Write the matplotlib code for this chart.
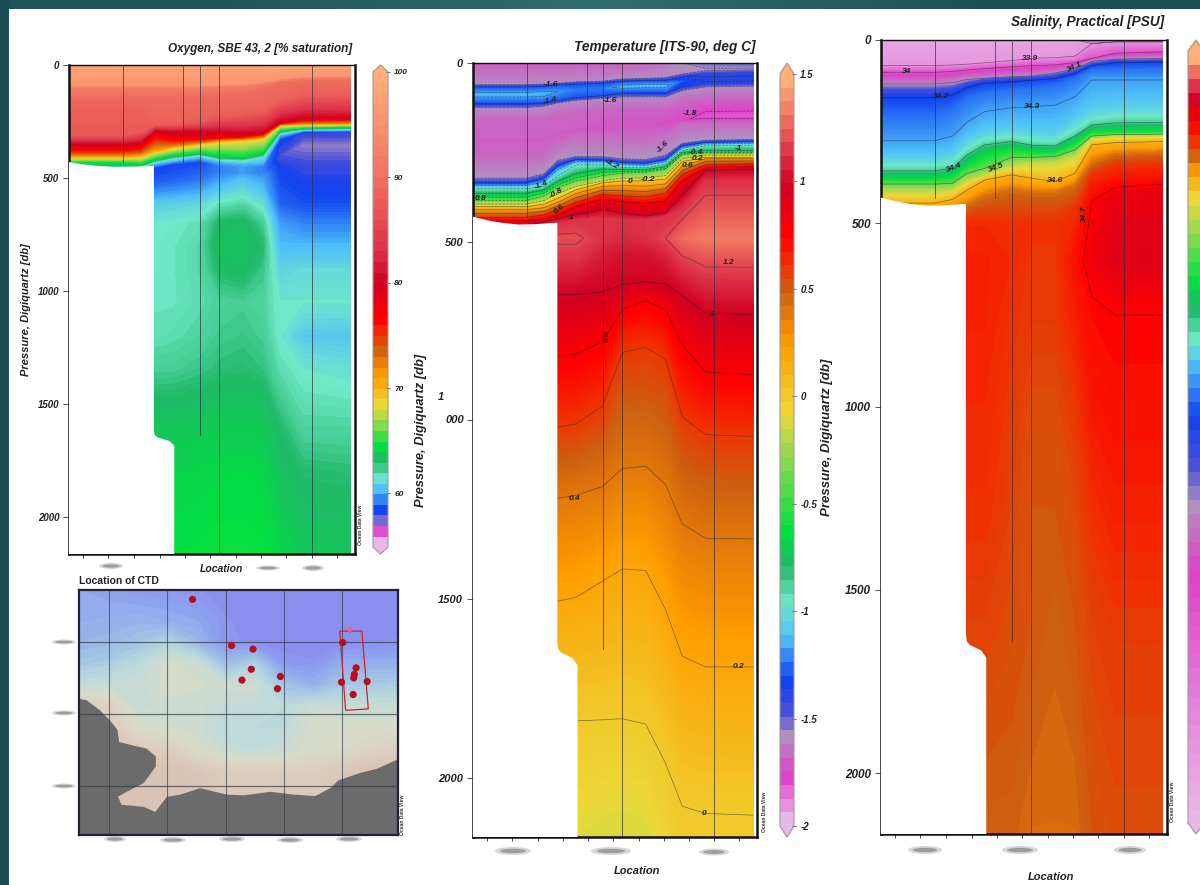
import numpy as np
import matplotlib
matplotlib.use("Agg")
import matplotlib.pyplot as plt
from matplotlib.cm import ScalarMappable
from matplotlib.colors import LinearSegmentedColormap, BoundaryNorm
from matplotlib.patches import Ellipse, Polygon, Rectangle

plt.rcParams['font.family'] = ['Liberation Sans', 'DejaVu Sans']
W, H = 1200, 885

# ---------- shared section geometry ----------
section_x = [0, .187, .25, .30, .363, .456, .526, .608, .678, .737, .819, .986]
station_x = [.19, .40, .457, .525, .85]
station_end = [430, 430, 1640, 2166, 2166]
seafloor_x = [0, .05, .1, .16, .22, .295, .297, .297, .30, .31, .35, .368, .368, 0]
seafloor_p = [430, 440, 447, 452, 451, 447, 447, 1620, 1640, 1650, 1665, 1685, 2166, 2166]
x_ticks = [.049, .138, .228, .317, .406, .493, .584, .672, .76, .849, .938]

spectrum = ['#e8b8e8', '#e040c8', '#b090c0', '#4a50d8', '#1040f0', '#50c0f8', '#70e8c8',
            '#20b868', '#00e040', '#a0d850', '#ecd838', '#ff9c00', '#cc6010', '#f03000',
            '#ff0000', '#d00020', '#dc3048', '#f07060', '#ffb07a']

# ---------- temperature ----------
temp_anchor = [-2, -1.8, -1.61, -1.5, -1.34, -1.14, -.98, -.8, -.64, -.25, -.08, .25, .5, .62, .77, 1.0, 1.15, 1.32, 1.5]
temp_values = [
    [-1.72, -1.72, -1.72, -1.72, -1.72, -1.72, -1.72, -1.7, -1.66, -1.6, -1.54, -1.52],
    -1.62,
    [-1.3, -1.3, -1.3, -1.3, -1.3, -1.3, -1.3, -1.3, -1.3, -1.38, -1.42, -1.42],
    [-1.15, -1.15, -1.15, -1.2, -1.25, -1.25, -1.15, -1.15, -1.15, -1.3, -1.38, -1.38],
    [-1.3, -1.3, -1.3, -1.3, -1.3, -1.3, -1.3, -1.3, -1.3, -1.38, -1.42, -1.42],
    -1.62, -1.7,
    [-1.72, -1.72, -1.72, -1.72, -1.72, -1.74, -1.74, -1.74, -1.76, -1.78, -1.84, -1.84],
    -1.7, -1.6, -1.4, -1.15, -1.0, -.75, -.4, -.2, 0, .3, .6, .85, 1.0, 1.15,
    [1.18, 1.18, 1.2, 1.22, 1.22, 1.15, 1.12, 1.14, 1.2, 1.3, 1.35, 1.35],
    [1.15, 1.15, 1.15, 1.15, 1.15, 1.08, 1.06, 1.06, 1.1, 1.18, 1.22, 1.22],
    1.0, .8, .6, .4, .2, 0,
    [-.1, -.1, -.1, -.1, -.1, -.12, -.13, -.12, -.05, 0, 0, 0],
]
temp_depths = [
    0,
    [60, 60, 58, 56, 52, 50, 44, 42, 40, 30, 20, 18],
    [70, 70, 68, 64, 62, 60, 54, 52, 52, 40, 32, 28],
    [88, 88, 86, 80, 76, 72, 66, 64, 64, 50, 46, 44],
    [110, 110, 108, 102, 94, 88, 80, 80, 80, 66, 58, 56],
    [126, 126, 122, 112, 105, 100, 96, 96, 96, 78, 68, 66],
    [160, 160, 155, 145, 135, 130, 125, 125, 125, 110, 100, 95],
    [220, 220, 215, 200, 190, 180, 170, 170, 170, 160, 150, 150],
    [260, 260, 255, 220, 200, 200, 205, 205, 195, 170, 170, 170],
    [322, 322, 310, 272, 262, 262, 268, 270, 258, 225, 216, 214],
    [335, 335, 322, 285, 270, 272, 278, 280, 270, 232, 222, 220],
    [345, 345, 335, 300, 278, 278, 286, 288, 278, 240, 228, 226],
    [352, 352, 345, 315, 285, 285, 292, 293, 283, 245, 232, 230],
    [368, 368, 358, 335, 315, 300, 300, 300, 292, 252, 248, 248],
    [385, 385, 372, 348, 330, 315, 308, 306, 298, 256, 252, 252],
    [395, 395, 385, 365, 345, 330, 322, 322, 315, 268, 258, 258],
    [402, 402, 395, 378, 355, 335, 330, 330, 325, 276, 264, 264],
    [415, 415, 410, 395, 370, 350, 350, 352, 345, 295, 270, 270],
    [432, 432, 425, 410, 390, 368, 372, 375, 365, 312, 285, 282],
    [445, 445, 440, 430, 405, 385, 392, 398, 392, 335, 296, 292],
    [455, 455, 445, 435, 425, 410, 420, 428, 420, 370, 300, 298],
    [470, 470, 462, 452, 440, 435, 440, 440, 430, 410, 330, 330],
    490,
    [550, 550, 550, 550, 550, 545, 530, 530, 540, 550, 558, 558],
    [648, 648, 648, 648, 648, 640, 620, 612, 618, 650, 700, 704],
    [821, 821, 821, 821, 815, 780, 690, 665, 690, 790, 865, 872],
    [1019, 1019, 1019, 1019, 1010, 960, 810, 796, 830, 990, 1040, 1045],
    [1218, 1218, 1218, 1218, 1210, 1185, 1135, 1128, 1180, 1290, 1330, 1332],
    [1506, 1506, 1506, 1506, 1495, 1450, 1416, 1420, 1530, 1660, 1690, 1690],
    [1841, 1841, 1841, 1841, 1841, 1838, 1835, 1850, 1960, 2080, 2100, 2105],
    2166,
]
temp_line_levels = [-1.8, -1.6, -1.4, -1.2, -1, -.8, -.6, -.4, -.2, 0, .2, .4, .6, .8, 1, 1.2]
temp_labels = [('-1.6', .275, 59, 0), ('-1.4', .271, 105, 15), ('-1.6', .482, 104, 0), ('-1.8', .763, 141, 0),
               ('-1.6', .67, 235, 45), ('-1', .933, 240, 0), ('-0.4', .784, 251, 0), ('0.2', .79, 268, 0),
               ('0.6', .754, 287, 0), ('-1.2', .489, 284, -30), ('-1.4', .24, 342, 20), ('-0.8', .292, 363, 30),
               ('0', .552, 332, 0), ('-0.2', .616, 326, 0), ('0.8', .026, 379, 0), ('0.6', .304, 410, 40),
               ('1', .345, 433, 0), ('1.2', .90, 557, 0), ('1', .842, 705, 0), ('0.8', .472, 765, 90),
               ('0.4', .359, 1218, 0), ('0.2', .933, 1690, 0), ('0', .813, 2100, 0)]

# ---------- oxygen ----------
oxy_anchor = [54.9, 56, 56.5, 57.2, 57.8, 60, 61.2, 62.5, 64.3, 66.5, 68, 71, 73.5, 75, 76.4, 80, 83, 90, 100]
oxy_values = [
    98, 96, 92, 89.5, 88.5, 87.5, 80, 76.4, 71, 68, 64.3, 63, 61, 59.8,
    [58, 58, 58, 58, 58, 58, 59, 59.5, 59, 58, 57.6, 57.6],
    [58, 58, 58, 58.1, 58.2, 58.4, 59, 59.5, 59, 57.3, 56.8, 56.8],
    [58.5, 58.5, 58.5, 58.5, 58.6, 58.8, 59.5, 60, 59.5, 57.8, 57.5, 57.5],
    [60.5, 60.5, 60.5, 60.5, 60.6, 60.8, 61.5, 61.8, 61, 58.5, 58.2, 58.2],
    [61.2, 61.2, 61.2, 61.2, 61.3, 61.5, 62.6, 62.8, 62, 59.5, 59, 59],
    [61.3, 61.3, 61.3, 61.3, 61.4, 61.7, 63, 63.1, 62.5, 60, 60, 60],
    [61.3, 61.3, 61.3, 61.3, 61.4, 61.7, 62.6, 62.8, 62.2, 60.6, 60.8, 60.8],
    [61.4, 61.4, 61.4, 61.4, 61.4, 61.6, 61.9, 62, 61.8, 61.2, 61.2, 61.2],
    [61.5, 61.5, 61.5, 61.5, 61.6, 61.8, 62.1, 62.2, 62, 61.2, 60.4, 60.3],
    [62, 62, 62, 62, 62, 62.2, 62.4, 62.5, 62.3, 61.6, 61.2, 61],
    [63.2, 63.2, 63.2, 63.2, 63.2, 63.3, 63.4, 63.5, 63.3, 62.5, 61.8, 61.8],
    [63.8, 63.8, 63.8, 63.8, 63.8, 63.9, 64, 64.1, 63.9, 63, 62.5, 62.4],
    [64.3, 64.3, 64.3, 64.3, 64.3, 64.4, 64.5, 64.5, 64.4, 64, 63.3, 63.2],
]
oxy_depths = [
    0,
    [88, 88, 88, 88, 90, 88, 84, 80, 72, 58, 48, 46],
    [100, 100, 100, 100, 102, 100, 96, 92, 84, 68, 56, 54],
    [140, 140, 140, 140, 138, 135, 130, 125, 105, 75, 70, 68],
    [178, 178, 190, 240, 250, 230, 205, 200, 190, 150, 120, 120],
    [310, 310, 295, 265, 262, 250, 230, 220, 210, 165, 140, 140],
    [350, 350, 345, 290, 295, 292, 298, 303, 297, 250, 235, 232],
    [377, 377, 370, 318, 333, 328, 322, 318, 306, 259, 244, 242],
    [404, 404, 400, 377, 362, 348, 335, 330, 321, 266, 262, 260],
    [414, 414, 410, 388, 370, 355, 345, 338, 328, 270, 266, 264],
    [430, 430, 436, 414, 398, 385, 398, 405, 385, 288, 278, 272],
    [445, 445, 445, 422, 405, 392, 408, 412, 392, 296, 282, 280],
    [450, 450, 450, 430, 415, 400, 420, 425, 408, 302, 286, 284],
    [460, 460, 455, 440, 425, 410, 430, 440, 435, 312, 290, 288],
    [470, 470, 465, 455, 440, 430, 445, 450, 450, 330, 298, 296],
    [500, 500, 500, 490, 480, 470, 480, 480, 480, 400, 355, 355],
    [540, 540, 535, 525, 520, 510, 505, 500, 500, 450, 450, 450],
    620, 700, 800, 900, 1050, 1200, 1350, 1600, 1800, 2166,
]

# ---------- salinity ----------
sal_anchor = [33.85, 34.03, 34.11, 34.15, 34.2, 34.33, 34.38, 34.42, 34.46, 34.53, 34.57, 34.62, 34.645, 34.67, 34.70, 34.73, 34.75, 34.77, 34.8]
sal_anchor_y = [834, 580, 510, 467, 417, 360, 337, 303, 273, 220, 187, 160, 143, 127, 110, 87, 70, 55, 40]
sal_values = [
    [33.88, 33.88, 33.88, 33.88, 33.88, 33.88, 33.88, 33.88, 33.89, 33.98, 34, 34],
    33.9, 34.0, 34.1, 34.15, 34.2, 34.25, 34.3, 34.35, 34.4, 34.46, 34.5, 34.55, 34.6, 34.64, 34.67,
    [34.675, 34.675, 34.675, 34.675, 34.675, 34.675, 34.67, 34.67, 34.675, 34.70, 34.715, 34.715],
    [34.68, 34.68, 34.68, 34.68, 34.68, 34.675, 34.665, 34.665, 34.69, 34.71, 34.72, 34.72],
    [34.68, 34.68, 34.68, 34.68, 34.68, 34.67, 34.665, 34.665, 34.68, 34.695, 34.70, 34.70],
    [34.675, 34.675, 34.675, 34.675, 34.675, 34.665, 34.655, 34.655, 34.665, 34.685, 34.69, 34.69],
    [34.67, 34.67, 34.67, 34.67, 34.67, 34.66, 34.65, 34.65, 34.655, 34.67, 34.68, 34.68],
    [34.66, 34.66, 34.66, 34.66, 34.66, 34.655, 34.65, 34.645, 34.65, 34.66, 34.665, 34.665],
    [34.645, 34.645, 34.645, 34.645, 34.645, 34.645, 34.64, 34.64, 34.64, 34.65, 34.655, 34.655],
]
sal_depths = [
    0,
    [70, 70, 68, 66, 62, 56, 50, 48, 44, 10, 5, 5],
    [88, 88, 86, 82, 78, 73, 70, 68, 62, 50, 36, 32],
    [120, 120, 116, 108, 104, 100, 98, 90, 78, 58, 52, 50],
    [135, 135, 130, 118, 108, 104, 102, 96, 84, 64, 56, 55],
    [157, 157, 150, 130, 118, 114, 110, 105, 92, 70, 62, 60],
    [209, 209, 190, 160, 145, 136, 132, 125, 105, 82, 80, 80],
    [275, 275, 262, 225, 195, 185, 182, 178, 155, 109, 109, 109],
    [325, 325, 315, 280, 255, 247, 255, 258, 225, 195, 185, 182],
    [357, 357, 350, 314, 286, 277, 287, 289, 262, 232, 226, 225],
    [380, 380, 372, 345, 315, 298, 305, 308, 282, 252, 250, 248],
    [393, 393, 391, 364, 350, 320, 320, 318, 300, 262, 258, 257],
    [415, 415, 410, 385, 370, 345, 338, 335, 318, 270, 263, 262],
    [445, 445, 435, 410, 382, 368, 377, 386, 364, 286, 280, 277],
    [470, 470, 470, 455, 430, 410, 420, 420, 400, 340, 315, 310],
    [500, 500, 500, 490, 490, 500, 500, 500, 470, 370, 345, 340],
    [510, 510, 510, 505, 505, 520, 520, 520, 490, 440, 430, 420],
    600, 750, 1000, 1300, 1600, 2166,
]
sal_line_levels = [33.9, 34, 34.1, 34.2, 34.3, 34.4, 34.5, 34.6, 34.7]
sal_labels = [('33.9', .52, 50, 0), ('34', .088, 86, 0), ('34.1', .676, 73, 25), ('34.2', .21, 155, 0),
              ('34.3', .529, 182, 0), ('34.4', .255, 348, 20), ('34.5', .404, 350, 20), ('34.6', .608, 384, 0),
              ('34.7', .711, 475, 90)]

# ---------- map ----------
map_lon = [-.52, 0, .5, 1, 1.5, 2, 2.5, 3, 3.5, 4, 4.5, 4.96]
map_lat = [2.72, 2.3, 2, 1.7, 1.4, 1.1, .8, .5, .2, -.68]
map_depth_class = [
    [1, .8, .6, .5, .3, 0, 0, 0, 0, 0, 0, 0],
    [1.2, 1.3, 1.4, 1.2, 1, .3, 0, 0, 0, 0, 0, 0],
    [1.5, 1.6, 2, 2.6, 1.6, .3, .2, 0, 0, .1, .2, .3],
    [2.1, 2.4, 3, 3.8, 3.6, 1.8, 2.5, .5, .3, 1.2, 1.2, 1.2],
    [3.2, 3.4, 3.4, 3.9, 3.8, 3.6, 3.6, 2, 1.3, 2.2, 2.3, 2.4],
    [5, 4.8, 3.3, 3.6, 3.6, 3.2, 3.2, 3, 3.6, 3.3, 3.4, 3.4],
    [6, 5.2, 4, 3.8, 3.6, 3, 3, 3, 4, 4, 4, 4],
    [6, 6, 5.2, 5, 4, 3.4, 3.2, 3.4, 4, 4.2, 4.6, 5],
    [6, 6, 6, 6, 5.6, 5, 5, 5, 5, 5.5, 6, 6],
    [6, 6, 6, 6, 6, 6, 6, 6, 6, 6, 6, 6],
]
map_colors = ['#8a8cf0', '#90a8ee', '#a0c4e4', '#bcdadc', '#d8dcc8', '#dccdbe', '#d9c2b4']
coast_lon = [-.52, -.39, -.16, .01, .14, .17, .47, .64, .80, .80, .59, .30, .15, .21, .59, .79, .99, 1.22, 1.56, 2.02, 2.31, 2.77, 3.17, 3.54, 3.80, 3.94, 4.31, 4.60, 4.96, 4.96, -.52]
coast_lat = [1.21, 1.19, 1.05, .91, .78, .61, .55, .52, .41, .27, .04, -.08, -.15, -.26, -.29, -.36, -.15, -.12, -.03, -.12, -.13, -.08, -.12, -.14, -.03, .08, .18, .24, .37, -.68, -.68]
ctd_lon = [1.43, 2.10, 2.47, 2.44, 2.28, 2.94, 2.89, 4.01, 4.24, 4.21, 4.20, 3.99, 4.43, 4.19]
ctd_lat = [2.59, 1.95, 1.90, 1.62, 1.47, 1.52, 1.35, 1.99, 1.64, 1.55, 1.50, 1.44, 1.45, 1.27]
box_lon = [3.96, 4.34, 4.45, 4.06]
box_lat = [2.15, 2.15, 1.07, 1.05]
star_lon, star_lat = [4.13], [2.16]
grid_lon = [0, 1, 2, 3, 4]
grid_lat = [0, 1, 2]

# ---------- helpers ----------
fig = plt.figure(figsize=(W / 100, H / 100), dpi=100, facecolor='white')
BI = dict(fontweight='bold', fontstyle='italic', color='#222222')


def px_axes(l, t, r, b, **kw):
    return fig.add_axes([l / W, 1 - b / H, (r - l) / W, (b - t) / H], **kw)


def grid(rows):
    n = len(section_x)
    return np.array([np.broadcast_to(np.asarray(r, float), (n,)) for r in rows])


def section(box, bar, values, depths, anchor, frac, nbar, ytick, ysize,
            yticklabels=None, lines=None, labels=(), barticks=(), barlabels=None, barsize=7):
    ax = px_axes(*box)
    Z, Y = grid(values), grid(depths)
    X = np.broadcast_to(np.array(section_x), Z.shape)
    cmap = LinearSegmentedColormap.from_list('odv', list(zip(frac, spectrum)), 512)
    cmap = cmap.with_extremes(under=spectrum[0], over=spectrum[-1])
    fine = np.interp(np.linspace(0, 1, 360), frac, anchor)
    coarse = np.interp(np.linspace(0, 1, nbar), frac, anchor)
    cf = ax.contourf(X, Y, Z, levels=fine, cmap=cmap, norm=BoundaryNorm(fine, 512), extend='both', zorder=1)
    if lines is not None:
        ax.contour(X, Y, Z, levels=lines, colors='#20202a', linewidths=.5, alpha=.55, zorder=2)
    ax.add_patch(Polygon(np.column_stack([seafloor_x, seafloor_p]), closed=True, fc='white', ec='none', zorder=3))
    for sx, send in zip(station_x, station_end):
        ax.plot([sx, sx], [0, send], color='#30303a', lw=.7, alpha=.7, zorder=4)
    for s, fx, p, rot in labels:
        ax.text(fx, p, s, fontsize=6, rotation=rot, ha='center', va='center', zorder=5, **BI)
    ax.set_xlim(0, 1)
    ax.set_ylim(2166, 0)
    ax.set_xticks(x_ticks)
    ax.set_xticklabels([])
    ax.tick_params(axis='x', length=3, width=.7, color='#444444', direction='out')
    ax.set_yticks(ytick)
    ax.set_yticklabels(yticklabels if yticklabels else [str(t) for t in ytick], fontsize=ysize, **BI)
    ax.tick_params(axis='y', length=4, width=.7, color='#555555', pad=3)
    for s in ax.spines.values():
        s.set_linewidth(1.8)
        s.set_color('#111111')
    ax.spines['top'].set_linewidth(1.0)
    cax = px_axes(*bar)
    sm = ScalarMappable(norm=BoundaryNorm(coarse, 512), cmap=cmap)
    cb = fig.colorbar(sm, cax=cax, extend='both', extendfrac=.0145, spacing='uniform')
    cb.outline.set_edgecolor('#a09a9a')
    cb.outline.set_linewidth(.8)
    cb.set_ticks(list(barticks))
    cax.minorticks_off()
    cb.set_ticklabels(barlabels if barlabels else [''] * len(barticks), fontsize=barsize, **BI)
    cax.tick_params(length=3, width=.7, color='#666666', direction='inout', pad=3)
    return ax


# ---------- background strips ----------
bg = fig.add_axes([0, 0, 1, 1], zorder=-5)
bg.axis('off')
strip = LinearSegmentedColormap.from_list('strip', ['#1f535c', '#2f6e6e', '#1d4f58'])
bg.imshow(np.array([[0, .5, 1]]), cmap=strip, extent=(0, W, 9, 0), aspect='auto', interpolation='bilinear')
bg.add_patch(Rectangle((0, 0), 9, H, fc='#1d4e58', ec='none', zorder=3))
bg.set_xlim(0, W)
bg.set_ylim(H, 0)

# ---------- panels ----------
oxy_frac = (np.array(oxy_anchor) - 54.9) / (100 - 54.9)
section((69, 65, 355, 554), (373, 65, 388, 554), oxy_values, oxy_depths, oxy_anchor, oxy_frac,
        46, [0, 500, 1000, 1500, 2000], 7,
        barticks=[60, 70, 80, 90, 100], barlabels=['60', '70', '80', '90', '100'], barsize=6)

temp_frac = (np.array(temp_anchor) + 2) / 3.5
section((473, 63, 757, 837), (780, 63, 794, 837), temp_values, temp_depths, temp_anchor, temp_frac,
        56, [0, 500, 1000, 1500, 2000], 8,
        yticklabels=['0', '500', '', '1500', '2000'], lines=temp_line_levels, labels=temp_labels,
        barticks=[-2, -1.5, -1, -.5, 0, .5, 1, 1.5], barlabels=['-2', '-1.5', '-1', '-0.5', '0', '0.5', '1', '1.5'])

sal_frac = (834 - np.array(sal_anchor_y)) / 794
section((881, 40, 1167, 834), (1188, 40, 1204, 834), sal_values, sal_depths, sal_anchor, sal_frac,
        56, [0, 500, 1000, 1500, 2000], 8.5,
        lines=sal_line_levels, labels=sal_labels, barticks=[33.9, 34.0, 34.58])

# ---------- map ----------
mp = px_axes(79, 590, 398, 835)
mcmap = LinearSegmentedColormap.from_list('bathy', map_colors)
mp.contourf(map_lon, map_lat, map_depth_class, levels=np.linspace(0, 6, 25), cmap=mcmap, zorder=1)
mp.add_patch(Polygon(np.column_stack([coast_lon, coast_lat]), closed=True, fc='#6b6b6b', ec='none', zorder=2))
for g in grid_lon:
    mp.axvline(g, color='#333a44', lw=.8, alpha=.65, zorder=3)
for g in grid_lat:
    mp.axhline(g, color='#333a44', lw=.9, alpha=.7, zorder=3)
mp.add_patch(Polygon(np.column_stack([box_lon, box_lat]), closed=True, fc='none', ec='#d81e2a', lw=.9, zorder=4))
mp.scatter(ctd_lon, ctd_lat, s=27, color='#b80e22', edgecolor='none', zorder=5)
mp.scatter(star_lon, star_lat, s=22, marker='+', color='#e8507a', lw=1, zorder=5)
mp.scatter(star_lon, star_lat, s=8, color='#e8608a', edgecolor='none', zorder=5)
mp.set_xlim(-.52, 4.96)
mp.set_ylim(-.68, 2.72)
mp.set_xticks([])
mp.set_yticks([])
for s in mp.spines.values():
    s.set_linewidth(1.6)
    s.set_color('#222230')

# ---------- overlay: titles, labels and blurred tick labels ----------
ov = fig.add_axes([0, 0, 1, 1], zorder=10)
ov.set_xlim(0, W)
ov.set_ylim(H, 0)
ov.axis('off')
ov.patch.set_alpha(0)
ov.text(352, 49, 'Oxygen, SBE 43, 2 [% saturation]', fontsize=8.5, ha='right', va='center', **BI)
ov.text(756, 47, 'Temperature [ITS-90, deg C]', fontsize=9.8, ha='right', va='center', **BI)
ov.text(1164, 22, 'Salinity, Practical [PSU]', fontsize=9.8, ha='right', va='center', **BI)
ov.text(26, 310, 'Pressure, Digiquartz [db]', fontsize=8, rotation=90, ha='center', va='center', **BI)
ov.text(421, 430, 'Pressure, Digiquartz [db]', fontsize=9.3, rotation=90, ha='center', va='center', **BI)
ov.text(827, 437, 'Pressure, Digiquartz [db]', fontsize=9.5, rotation=90, ha='center', va='center', **BI)
ov.text(441, 397, '1', fontsize=8, ha='center', va='center', **BI)
ov.text(455, 420, '000', fontsize=8, ha='center', va='center', **BI)
ov.text(221, 569, 'Location', fontsize=7.5, ha='center', va='center', **BI)
ov.text(637, 871, 'Location', fontsize=8, ha='center', va='center', **BI)
ov.text(1051, 877, 'Location', fontsize=8, ha='center', va='center', **BI)
ov.text(79, 581, 'Location of CTD', fontsize=7.5, fontweight='bold', color='#222222', ha='left', va='center')
for x, y in [(360, 525), (765, 812), (1172, 802), (403, 815)]:
    ov.text(x, y, 'Ocean Data View', fontsize=3.6, rotation=90, ha='center', va='center', fontweight='bold', color='#333333')
smudges = [(111, 566, 24, 6), (268, 568, 24, 5), (313, 568, 22, 6), (513, 851, 36, 8), (611, 851, 40, 8),
           (714, 852, 30, 7), (925, 850, 34, 8), (1020, 850, 36, 8), (1130, 850, 32, 8),
           (115, 839, 22, 6), (173, 840, 26, 6), (232, 839, 26, 6), (290, 840, 26, 6), (349, 839, 26, 6),
           (64, 642, 24, 5), (64, 713, 24, 5), (64, 786, 24, 5)]
for x, y, w, h in smudges:
    ov.add_patch(Ellipse((x, y), w, h, fc='#999999', ec='none', alpha=.4))
    ov.add_patch(Ellipse((x, y), w * .72, h * .55, fc='#666666', ec='none', alpha=.5))

fig.savefig('out.png', dpi=100)
